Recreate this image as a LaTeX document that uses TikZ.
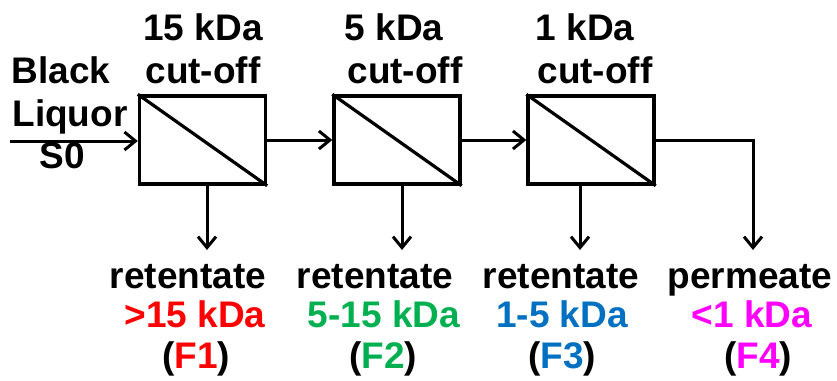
\documentclass[tikz,border=0pt]{standalone}
\usepackage{fontspec}
\setmainfont{Liberation Sans}
\usetikzlibrary{arrows.meta}
\definecolor{fracred}{HTML}{FF0000}
\definecolor{fracgreen}{HTML}{00B050}
\definecolor{fracblue}{HTML}{0070C0}
\definecolor{fracmag}{HTML}{FF00FF}
\begin{document}
\begin{tikzpicture}[x=1pt,y=-1pt,
  lbl/.style={font=\fontsize{37}{43}\selectfont\bfseries, inner sep=0pt, anchor=base},
  unit/.style={draw, line width=3.4pt, minimum width=126pt, minimum height=88pt, inner sep=0pt},
  flow/.style={line width=3pt, -{Straight Barb[length=11pt,width=18pt]}}]
\useasboundingbox (0,0) rectangle (837,380);

% membrane units
\node[unit] (b1) at (202.5,140) {};
\node[unit] (b2) at (397,140) {};
\node[unit] (b3) at (591,140) {};
\foreach \b in {b1,b2,b3}
  \draw[line width=3.2pt] (\b.north west) -- (\b.south east);

% cut-off labels
\node[lbl] (c1a) at (203,40) {15 kDa};
\node[lbl] (c1b) at (203,83) {cut-off};
\node[lbl] (c2a) at (394,40) {5 kDa};
\node[lbl] (c2b) at (405,83) {cut-off};
\node[lbl] (c3a) at (585,40) {1 kDa};
\node[lbl] (c3b) at (595,83) {cut-off};

% feed
\node[lbl] (feedA) at (61,83) {Black};
\node[lbl] (feedB) at (70,126) {Liquor};
\node[lbl] (feedC) at (62,168) {S0};
\coordinate (in) at (10,141);

% flow ends
\coordinate (f1) at (207,250);
\coordinate (f2) at (402,250);
\coordinate (f3) at (580,250);
\coordinate (f4) at (753,250);

\draw[flow] (in) -- (in -| b1.west);
\draw[flow] (b1.east) -- (b2.west);
\draw[flow] (b2.east) -- (b3.west);
\draw[flow] (b3.east) -| (f4);
\draw[flow] (f1 |- b1.south) -- (f1);
\draw[flow] (f2 |- b2.south) -- (f2);
\draw[flow] (f3 |- b3.south) -- (f3);

% fractions
\node[lbl] (r1) at (188,288) {retentate};
\node[lbl, text=fracred] (m1) at (195,327) {>15 kDa};
\node[lbl] (p1) at (196,368) {(\textcolor{fracred}{F1})};

\node[lbl] (r2) at (375,288) {retentate};
\node[lbl, text=fracgreen] (m2) at (384,327) {5-15 kDa};
\node[lbl] (p2) at (383,368) {(\textcolor{fracgreen}{F2})};

\node[lbl] (r3) at (561,288) {retentate};
\node[lbl, text=fracblue] (m3) at (562,327) {1-5 kDa};
\node[lbl] (p3) at (562,368) {(\textcolor{fracblue}{F3})};

\node[lbl] (r4) at (750,288) {permeate};
\node[lbl, text=fracmag] (m4) at (752,327) {<1 kDa};
\node[lbl] (p4) at (758,368) {(\textcolor{fracmag}{F4})};
\end{tikzpicture}
\end{document}
